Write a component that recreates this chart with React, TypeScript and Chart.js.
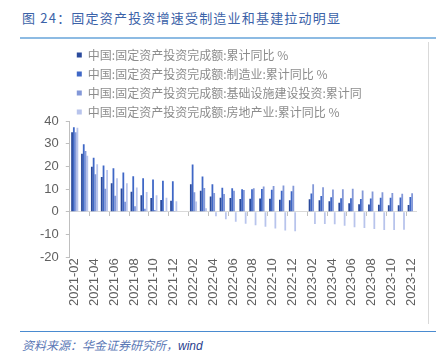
import React, { useEffect, useRef } from 'react';
import { Chart, registerables } from 'chart.js';

Chart.register(...registerables);

const months = [
  '2021-02', '2021-03', '2021-04', '2021-05', '2021-06', '2021-07', '2021-08', '2021-09', '2021-10', '2021-11', '2021-12',
  '2022-01', '2022-02', '2022-03', '2022-04', '2022-05', '2022-06', '2022-07', '2022-08', '2022-09', '2022-10', '2022-11', '2022-12',
  '2023-01', '2023-02', '2023-03', '2023-04', '2023-05', '2023-06', '2023-07', '2023-08', '2023-09', '2023-10', '2023-11', '2023-12',
];

const totalFAI = [
  35.0, 25.6, 19.9, 15.4, 12.6, 10.3, 8.9, 7.3, 6.1, 5.2, 4.9,
  null, 12.2, 9.3, 6.8, 6.2, 6.1, 5.7, 5.8, 5.9, 5.8, 5.3, 5.1,
  null, 5.5, 5.1, 4.7, 4.0, 3.8, 3.4, 3.2, 3.1, 2.9, 2.9, 3.0,
];

const manufacturing = [
  37.3, 29.8, 23.8, 20.4, 19.2, 17.3, 15.7, 14.8, 14.2, 13.7, 13.5,
  null, 20.9, 15.6, 12.2, 10.6, 10.4, 9.9, 10.0, 10.1, 9.7, 9.3, 9.1,
  null, 8.1, 7.0, 6.4, 6.0, 6.0, 5.7, 5.9, 6.2, 6.2, 6.3, 6.5,
];

const infrastructure = [
  35.0, 26.8, 16.6, 10.2, 7.1, 4.4, 2.5, 1.4, 0.8, 0.4, 0.2,
  null, 8.6, 10.5, 8.3, 7.9, 9.3, 9.6, 10.4, 11.2, 11.4, 11.6, 11.5,
  null, 12.2, 10.8, 9.8, 10.0, 10.2, 9.4, 9.0, 8.6, 8.3, 8.0, 8.2,
];

const realEstate = [
  37.0, 24.7, 21.0, 18.4, 14.8, 12.6, 10.7, 8.7, 7.3, 6.2, 4.7,
  null, 4.6, 1.6, -1.9, -3.3, -4.4, -5.2, -5.9, -6.6, -7.3, -8.2, -8.5,
  null, -5.3, -5.3, -5.4, -6.1, -6.8, -7.1, -7.6, -8.0, -8.0, -7.9, null,
];

const seriesNames = [
  '中国:固定资产投资完成额:累计同比 %',
  '中国:固定资产投资完成额:制造业:累计同比 %',
  '中国:固定资产投资完成额:基础设施建设投资:累计同',
  '中国:固定资产投资完成额:房地产业:累计同比 %',
];

const seriesColors = ['#2a4a9c', '#3f67c6', '#8398d8', '#b8c4ec'];

const titleText = '图 24：固定资产投资增速受制造业和基建拉动明显';
const sourceText = '资料来源：华金证券研究所，';
const sourceTail = 'wind';

const axisFont = { family: "'Liberation Sans', Arial, sans-serif", size: 13 };

export default function App() {
  const canvasRef = useRef<HTMLCanvasElement>(null);

  useEffect(() => {
    const values = [totalFAI, manufacturing, infrastructure, realEstate];
    const chart = new Chart(canvasRef.current as HTMLCanvasElement, {
      type: 'bar',
      data: {
        labels: months,
        datasets: values.map((data, i) => ({
          label: seriesNames[i],
          data,
          backgroundColor: seriesColors[i],
          borderWidth: 0,
          categoryPercentage: 0.72,
          barPercentage: 1.0,
          xAxisID: 'x',
          yAxisID: 'y',
        })),
      },
      options: {
        responsive: false,
        animation: false,
        layout: { padding: { left: 33, right: 11, top: 0, bottom: 15 } },
        plugins: {
          tooltip: { enabled: false },
          legend: {
            position: 'top',
            align: 'start',
            fullSize: false,
            maxHeight: 79,
            labels: {
              boxWidth: 5,
              boxHeight: 5,
              padding: 7,
              color: '#8c8c8c',
              font: { family: "'Noto Sans CJK SC', sans-serif", size: 12 },
            },
          },
        },
        scales: {
          x: {
            type: 'category',
            position: 'bottom',
            offset: true,
            grid: { display: false, drawTicks: false },
            border: { display: false },
            ticks: {
              autoSkip: false,
              minRotation: 90,
              maxRotation: 90,
              padding: 1,
              color: '#606060',
              font: axisFont,
              callback: (_v: any, i: number) => (i % 2 === 0 ? months[i] : ''),
            },
          },
          x2: {
            type: 'category',
            axis: 'x',
            labels: months,
            position: { y: 0 },
            offset: true,
            grid: {
              offset: true,
              drawOnChartArea: false,
              drawTicks: true,
              tickLength: 4,
              tickColor: (c: any) => (c.index % 2 === 0 ? '#bfbfbf' : 'rgba(0,0,0,0)'),
            },
            border: { color: '#d9d9d9' },
            ticks: { display: false, autoSkip: false },
          },
          y: {
            min: -20,
            max: 40,
            ticks: { stepSize: 10, color: '#606060', font: axisFont, padding: 7 },
            grid: { drawOnChartArea: false, drawTicks: true, tickLength: 4, color: '#bfbfbf' },
            border: { color: '#bfbfbf' },
          },
        },
      } as any,
    });
    return () => chart.destroy();
  }, []);

  return (
    <div style={{ position: 'fixed', left: 0, top: 0, width: 447, height: 360, background: '#fff', overflow: 'hidden' }}>
      <div
        style={{
          position: 'absolute', left: 22, top: 8, height: 20, lineHeight: '20px', whiteSpace: 'nowrap',
          fontFamily: "'Noto Sans CJK SC', sans-serif", fontSize: 13, letterSpacing: '1.2px', color: '#3b62a8',
        }}
      >
        {titleText}
      </div>
      <div style={{ position: 'absolute', left: 20, top: 37, width: 416, height: 2, background: '#8dbbe3' }} />
      <div style={{ position: 'absolute', left: 0, top: 42, width: 428, height: 280 }}>
        <canvas ref={canvasRef} width={428} height={280} style={{ display: 'block' }} />
      </div>
      <div style={{ position: 'absolute', left: 428, top: 42, width: 1, height: 282, background: '#d9d9d9' }} />
      <div style={{ position: 'absolute', left: 20, top: 331, width: 416, height: 1, background: '#4a8bd0' }} />
      <div
        style={{
          position: 'absolute', left: 22, top: 336, height: 18, lineHeight: '18px', whiteSpace: 'nowrap',
          fontFamily: "'Noto Sans CJK SC', sans-serif", fontSize: 12, fontStyle: 'italic', color: '#5a77b5',
        }}
      >
        {sourceText}
        <span style={{ fontFamily: "'Liberation Sans', Arial, sans-serif", color: '#2c3f8f' }}>{sourceTail}</span>
      </div>
    </div>
  );
}
